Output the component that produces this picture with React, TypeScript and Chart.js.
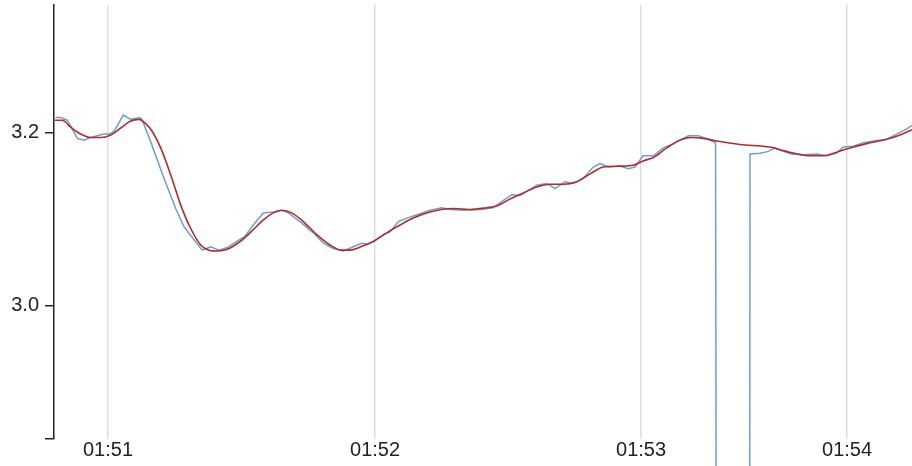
import { useEffect, useRef } from 'react';
import { Chart, registerables } from 'chart.js';

Chart.register(...registerables);

// x = sample position along the time axis, y = measured value
const blueX = [0.19, 0.75, 1.49, 2.62, 3.37, 4.12, 4.87, 5.62, 6.18, 6.74, 7.79, 8.62, 9.66, 9.92, 10.87, 12.36, 13.67, 14.61, 15.73, 16.66, 17.61, 18.54, 19.47, 20.53, 21.46, 22.39, 23.52, 24.64, 25.58, 26.33, 27.64, 29.13, 30.26, 31.38, 32.51, 33.63, 34.57, 35.13, 35.88, 37.0, 37.75, 38.69, 39.63, 40.56, 41.69, 42.25, 43.56, 44.49, 45.99, 47.87, 49.36, 50.3, 51.43, 52.36, 53.29, 54.24, 55.36, 56.29, 57.42, 58.35, 59.47, 60.6, 61.35, 62.28, 63.6, 64.53, 65.28, 66.18, 67.34, 68.46, 69.58, 71.27, 72.39, 73.52, 74.33, 74.44, 78.15, 78.2, 79.33, 80.26, 81.01, 81.94, 82.89, 84.19, 85.7, 86.82, 87.94, 88.69, 89.81, 90.93, 92.06, 93.56, 94.69, 95.81, 96.4];
const blueY = [3.217, 3.217, 3.214, 3.193, 3.191, 3.194, 3.196, 3.198, 3.198, 3.201, 3.22, 3.215, 3.217, 3.214, 3.189, 3.147, 3.112, 3.091, 3.076, 3.064, 3.068, 3.064, 3.067, 3.074, 3.08, 3.093, 3.107, 3.108, 3.11, 3.107, 3.097, 3.084, 3.072, 3.066, 3.063, 3.068, 3.072, 3.071, 3.074, 3.082, 3.085, 3.097, 3.101, 3.104, 3.108, 3.11, 3.113, 3.111, 3.11, 3.111, 3.113, 3.12, 3.128, 3.127, 3.133, 3.139, 3.141, 3.135, 3.143, 3.141, 3.147, 3.16, 3.164, 3.16, 3.161, 3.158, 3.16, 3.173, 3.173, 3.182, 3.187, 3.196, 3.196, 3.192, 3.188, 2.5, 2.5, 3.175, 3.176, 3.178, 3.182, 3.178, 3.175, 3.174, 3.175, 3.173, 3.176, 3.183, 3.184, 3.188, 3.19, 3.192, 3.198, 3.204, 3.208];

const redX = [0.11, 0.93, 1.88, 3.0, 4.12, 5.25, 6.37, 7.49, 8.62, 9.55, 10.3, 11.04, 11.99, 13.11, 14.24, 15.36, 16.48, 17.42, 18.35, 19.47, 20.9, 22.02, 23.52, 24.64, 25.58, 26.71, 28.01, 29.52, 31.01, 32.33, 33.26, 34.75, 35.88, 37.38, 38.88, 40.37, 42.25, 44.87, 46.74, 48.62, 49.74, 51.24, 52.73, 54.24, 55.73, 57.22, 58.73, 60.22, 61.72, 63.6, 65.09, 66.18, 67.34, 68.84, 70.34, 71.46, 72.96, 74.46, 77.08, 80.45, 81.57, 83.07, 84.94, 86.44, 87.94, 89.44, 91.31, 93.56, 95.06, 96.4];
const redY = [3.214, 3.214, 3.206, 3.198, 3.194, 3.194, 3.197, 3.205, 3.213, 3.215, 3.21, 3.201, 3.182, 3.151, 3.116, 3.089, 3.07, 3.064, 3.063, 3.065, 3.074, 3.084, 3.099, 3.107, 3.11, 3.107, 3.097, 3.082, 3.07, 3.064, 3.064, 3.069, 3.074, 3.084, 3.093, 3.101, 3.108, 3.112, 3.111, 3.113, 3.115, 3.123, 3.13, 3.137, 3.14, 3.14, 3.143, 3.152, 3.16, 3.161, 3.162, 3.167, 3.171, 3.182, 3.191, 3.194, 3.193, 3.19, 3.186, 3.183, 3.18, 3.176, 3.173, 3.173, 3.177, 3.182, 3.187, 3.192, 3.197, 3.203];

const xTickPositions = [6.07, 36.07, 65.96, 89.1];
const xTickLabels = ['01:51', '01:52', '01:53', '01:54'];
const xMin = 0;
const xMax = 96.4;

const yTickValues = [3.0, 3.2];
const yTickLabels = ['3.0', '3.2'];
const yMin = 2.846;
const yMax = 3.347;

const FONT = '"Liberation Sans", Arial, sans-serif';

export default function App() {
  const ref = useRef<HTMLCanvasElement | null>(null);

  useEffect(() => {
    if (!ref.current) return;
    const blue = blueX.map((x, i) => ({ x, y: blueY[i] }));
    const red = redX.map((x, i) => ({ x, y: redY[i] }));
    const chart = new Chart(ref.current, {
      type: 'line',
      data: {
        datasets: [
          {
            label: 'smoothed',
            data: red,
            borderColor: '#b22a2a',
            borderWidth: 1.6,
            pointRadius: 0,
            cubicInterpolationMode: 'monotone',
            fill: false,
          },
          {
            label: 'raw',
            data: blue,
            borderColor: '#6a9fd4',
            borderWidth: 1.5,
            pointRadius: 0,
            tension: 0,
            fill: false,
            clip: false as any,
          },
        ],
      },
      options: {
        animation: false,
        responsive: false,
        devicePixelRatio: 1,
        layout: { padding: { top: 5, left: 0, right: 0, bottom: 0 } },
        plugins: { legend: { display: false }, tooltip: { enabled: false } },
        scales: {
          x: {
            type: 'linear',
            min: xMin,
            max: xMax,
            border: { display: false },
            grid: {
              color: '#dedede',
              lineWidth: 1.5,
              drawTicks: false,
            },
            ticks: {
              autoSkip: false,
              maxRotation: 0,
              padding: 0,
              color: '#222',
              font: { family: FONT, size: 20, lineHeight: 1.1 },
              callback: (_v: any, i: number) => xTickLabels[i],
            },
            afterBuildTicks: (scale: any) => {
              scale.ticks = xTickPositions.map((v) => ({ value: v }));
            },
            afterFit: (scale: any) => {
              scale.height = 27;
              scale.paddingLeft = 0;
              scale.paddingRight = 0;
            },
          },
          y: {
            type: 'linear',
            min: yMin,
            max: yMax,
            border: { display: true, color: '#222', width: 1.5 },
            grid: {
              drawOnChartArea: false,
              drawTicks: true,
              tickLength: 9,
              color: '#222',
              lineWidth: 1.5,
            },
            ticks: {
              padding: 6,
              color: '#222',
              font: { family: FONT, size: 20 },
              callback: (v: any) => {
                const k = yTickValues.findIndex((t) => Math.abs(t - Number(v)) < 1e-9);
                return k >= 0 ? yTickLabels[k] : '';
              },
            },
            afterBuildTicks: (scale: any) => {
              scale.ticks = [{ value: yMin }, ...yTickValues.map((v) => ({ value: v }))];
            },
            afterFit: (scale: any) => {
              scale.width = 54;
              scale.paddingTop = 0;
              scale.paddingBottom = 0;
            },
          },
        },
      },
    });
    return () => chart.destroy();
  }, []);

  return (
    <div style={{ position: 'absolute', left: 0, top: 0, width: 912, height: 466, background: '#fff' }}>
      <canvas ref={ref} width={912} height={466} style={{ display: 'block', width: 912, height: 466 }} />
    </div>
  );
}
